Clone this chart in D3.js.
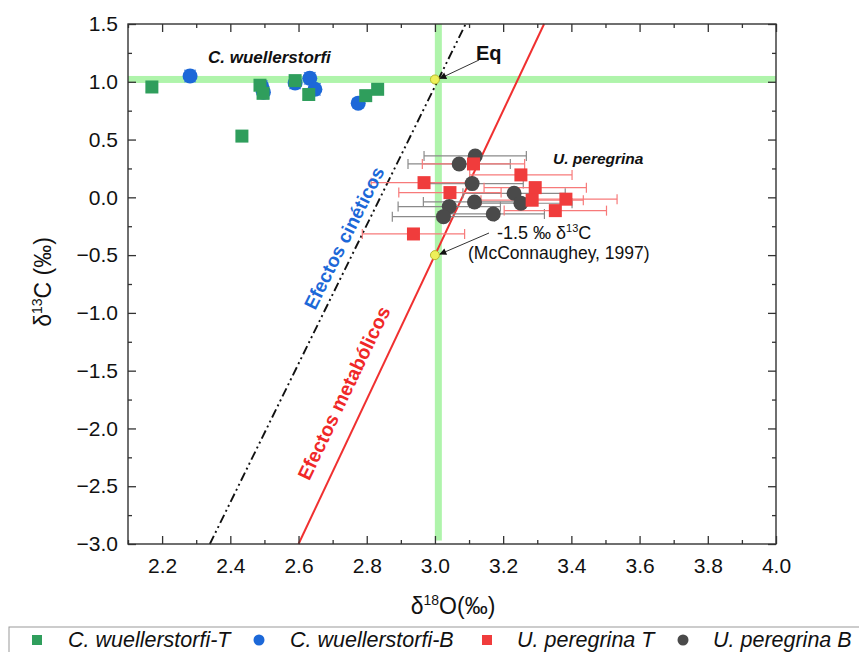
<!DOCTYPE html>
<html><head><meta charset="utf-8">
<script src="https://cdn.jsdelivr.net/npm/d3@7"></script>
<style>
body{margin:0;background:#fff;}
svg text{font-family:"Liberation Sans",Arial,sans-serif;}
</style></head>
<body><svg id="chart" width="859" height="652"></svg>
<script>
// ---- data ----
const cwT_x = [2.17, 2.434, 2.487, 2.496, 2.59, 2.63, 2.797, 2.832];
const cwT_y = [0.955, 0.53, 0.97, 0.90, 1.01, 0.89, 0.88, 0.935];
const cwT_yerr = [0.04, 0.04, 0.04, 0.04, 0.04, 0.04, 0.04, 0.04];

const cwB_x = [2.282, 2.492, 2.497, 2.59, 2.633, 2.648, 2.775];
const cwB_y = [1.05, 0.96, 0.91, 0.99, 1.03, 0.935, 0.815];
const cwB_yerr = [0.05, 0.05, 0.05, 0.05, 0.05, 0.05, 0.04];

const upT_x = [3.113, 3.252, 2.968, 3.294, 3.044, 3.384, 3.285, 3.353, 2.937];
const upT_y = [0.289, 0.194, 0.127, 0.084, 0.041, -0.016, -0.025, -0.115, -0.317];
const upT_xerr = [0.15, 0.15, 0.155, 0.15, 0.15, 0.15, 0.15, 0.15, 0.15];

const upB_x = [3.118, 3.071, 3.109, 3.232, 3.116, 3.252, 3.042, 3.025, 3.171];
const upB_y = [0.358, 0.289, 0.119, 0.035, -0.04, -0.051, -0.08, -0.167, -0.144];
const upB_xerr = [0.15, 0.15, 0.15, 0.15, 0.15, 0.15, 0.15, 0.15, 0.15];

const kineticLine = [[2.34, -3.0], [3.09, 1.5]];
const metabolicLine = [[2.6, -3.0], [3.32, 1.5]];
const eqPoint = [3.0, 1.02];
const mcPoint = [3.0, -0.5];
const bandY = 1.02;
const bandX = 3.01;

const xTicks = [2.2, 2.4, 2.6, 2.8, 3.0, 3.2, 3.4, 3.6, 3.8, 4.0];
const yTicks = [1.5, 1.0, 0.5, 0.0, -0.5, -1.0, -1.5, -2.0, -2.5, -3.0];
const legendLabels = ["C. wuellerstorfi-T", "C. wuellerstorfi-B", "U. peregrina T", "U. peregrina B"];

// ---- layout ----
const svg = d3.select("#chart");
const L = 128, R = 776, T = 24, B = 544;
const x = d3.scaleLinear().domain([2.1, 4.0]).range([L, R]);
const y = d3.scaleLinear().domain([-3.0, 1.5]).range([B, T]);

const cGreen = "#2f9e5c", cBlue = "#1c68d8", cRed = "#f03c3c", cGray = "#4a4a4a";

// bands
svg.append("rect").attr("x", L).attr("width", R - L)
  .attr("y", y(bandY) - 3.5).attr("height", 7).attr("fill", "#a6f3a2").attr("opacity", 0.9);
svg.append("rect").attr("x", x(bandX) - 3.5).attr("width", 7)
  .attr("y", T).attr("height", y(-2.97) - T).attr("fill", "#a6f3a2").attr("opacity", 0.9);

// lines
const line = d3.line().x(d => x(d[0])).y(d => y(d[1]));
svg.append("path").attr("d", line(kineticLine)).attr("stroke", "#111").attr("stroke-width", 1.9)
  .attr("fill", "none").attr("stroke-dasharray", "9,3.5,2,3.5,2,3.5");
svg.append("path").attr("d", line(metabolicLine)).attr("stroke", "#f03030").attr("stroke-width", 2)
  .attr("fill", "none");

// axes (ticks inside, mirrored)
function minor(arr) { const out = []; for (let i = 0; i < arr.length - 1; i++) out.push((arr[i] + arr[i + 1]) / 2); return out; }
const xMinor = [2.1].concat(minor(xTicks));
const yMinor = minor(yTicks);
const axG = svg.append("g");
axG.append("g").attr("transform", `translate(0,${B})`)
  .call(d3.axisBottom(x).tickValues(xTicks).tickSize(-8).tickPadding(14).tickFormat(d3.format(".1f")));
axG.append("g").attr("transform", `translate(0,${B})`)
  .call(d3.axisBottom(x).tickValues(xMinor).tickSize(-4).tickFormat(""));
axG.append("g").attr("transform", `translate(0,${T})`)
  .call(d3.axisTop(x).tickValues(xTicks).tickSize(-8).tickFormat(""));
axG.append("g").attr("transform", `translate(0,${T})`)
  .call(d3.axisTop(x).tickValues(xMinor).tickSize(-4).tickFormat(""));
axG.append("g").attr("transform", `translate(${L},0)`)
  .call(d3.axisLeft(y).tickValues(yTicks).tickSize(-8).tickPadding(10).tickFormat(d => d3.format(".1f")(d).replace("-", "\u2212")));
axG.append("g").attr("transform", `translate(${L},0)`)
  .call(d3.axisLeft(y).tickValues(yMinor).tickSize(-4).tickFormat(""));
axG.append("g").attr("transform", `translate(${R},0)`)
  .call(d3.axisRight(y).tickValues(yTicks).tickSize(-8).tickFormat(""));
axG.append("g").attr("transform", `translate(${R},0)`)
  .call(d3.axisRight(y).tickValues(yMinor).tickSize(-4).tickFormat(""));
axG.selectAll(".domain").remove();
axG.selectAll(".tick line").attr("stroke", "#333").attr("stroke-width", 1.3);
axG.selectAll(".tick text").attr("font-size", 21).attr("fill", "#111");
svg.append("rect").attr("x", L).attr("y", T).attr("width", R - L).attr("height", B - T)
  .attr("fill", "none").attr("stroke", "#333").attr("stroke-width", 1.4);

// axis titles
const yt = svg.append("text").attr("transform", `translate(51,${282}) rotate(-90)`)
  .attr("text-anchor", "middle").attr("font-size", 23).attr("fill", "#111");
yt.append("tspan").text("δ");
yt.append("tspan").attr("font-size", 14).attr("dy", -9).text("13");
yt.append("tspan").attr("dy", 9).text("C (‰)");
const xt = svg.append("text").attr("x", 453).attr("y", 614)
  .attr("text-anchor", "middle").attr("font-size", 23).attr("fill", "#111");
xt.append("tspan").text("δ");
xt.append("tspan").attr("font-size", 14).attr("dy", -9).text("18");
xt.append("tspan").attr("dy", 9).text("O(‰)");

// error bars
function vErr(xs, ys, es, col) {
  const g = svg.append("g").attr("stroke", col).attr("stroke-width", 1.2);
  xs.forEach((xv, i) => {
    const cx = x(xv), y1 = y(ys[i] - es[i]), y2 = y(ys[i] + es[i]);
    g.append("line").attr("x1", cx).attr("x2", cx).attr("y1", y1).attr("y2", y2);
    g.append("line").attr("x1", cx - 6).attr("x2", cx + 6).attr("y1", y1).attr("y2", y1);
    g.append("line").attr("x1", cx - 6).attr("x2", cx + 6).attr("y1", y2).attr("y2", y2);
  });
}
function hErr(xs, ys, es, col) {
  const g = svg.append("g").attr("stroke", col).attr("stroke-width", 1.2);
  xs.forEach((xv, i) => {
    const cy = y(ys[i]), x1 = x(xv - es[i]), x2 = x(xv + es[i]);
    g.append("line").attr("x1", x1).attr("x2", x2).attr("y1", cy).attr("y2", cy);
    g.append("line").attr("x1", x1).attr("x2", x1).attr("y1", cy - 5).attr("y2", cy + 5);
    g.append("line").attr("x1", x2).attr("x2", x2).attr("y1", cy - 5).attr("y2", cy + 5);
  });
}
hErr(upB_x, upB_y, upB_xerr, "#8a8a8a");
hErr(upT_x, upT_y, upT_xerr, "#f77a7a");
vErr(cwT_x, cwT_y, cwT_yerr, "#6cc48f");
vErr(cwB_x, cwB_y, cwB_yerr, "#5a95e6");

// markers
const S = 13;
svg.append("g").selectAll("circle").data(d3.range(upB_x.length)).join("circle")
  .attr("cx", i => x(upB_x[i])).attr("cy", i => y(upB_y[i])).attr("r", 7.5).attr("fill", cGray);
svg.append("g").selectAll("rect").data(d3.range(upT_x.length)).join("rect")
  .attr("x", i => x(upT_x[i]) - S / 2).attr("y", i => y(upT_y[i]) - S / 2)
  .attr("width", S).attr("height", S).attr("fill", cRed);
svg.append("g").selectAll("circle").data(d3.range(cwB_x.length)).join("circle")
  .attr("cx", i => x(cwB_x[i])).attr("cy", i => y(cwB_y[i])).attr("r", 7.5).attr("fill", cBlue);
svg.append("g").selectAll("rect").data(d3.range(cwT_x.length)).join("rect")
  .attr("x", i => x(cwT_x[i]) - S / 2).attr("y", i => y(cwT_y[i]) - S / 2)
  .attr("width", S).attr("height", S).attr("fill", cGreen);

// yellow points
[eqPoint, mcPoint].forEach(p => {
  svg.append("circle").attr("cx", x(p[0])).attr("cy", y(p[1])).attr("r", 4.5)
    .attr("fill", "#eef05a").attr("stroke", "#b8b830").attr("stroke-width", 1);
});

// arrows
const defs = svg.append("defs");
defs.append("marker").attr("id", "ah").attr("viewBox", "0 0 10 10").attr("refX", 9).attr("refY", 5)
  .attr("markerWidth", 10).attr("markerHeight", 7).attr("orient", "auto").attr("markerUnits", "userSpaceOnUse")
  .append("path").attr("d", "M0,0 L10,5 L0,10 z").attr("fill", "#111");
svg.append("line").attr("x1", 479).attr("y1", 60).attr("x2", x(eqPoint[0]) + 5).attr("y2", y(eqPoint[1]) - 1)
  .attr("stroke", "#333").attr("stroke-width", 1).attr("marker-end", "url(#ah)");
svg.append("line").attr("x1", 489).attr("y1", 233).attr("x2", x(mcPoint[0]) + 5).attr("y2", y(mcPoint[1]) - 1)
  .attr("stroke", "#333").attr("stroke-width", 1).attr("marker-end", "url(#ah)");

// annotations
svg.append("text").attr("x", 476).attr("y", 60).attr("font-size", 20).attr("font-weight", "bold").attr("fill", "#111").text("Eq");
svg.append("text").attr("x", 208).attr("y", 63).attr("font-size", 17).attr("font-weight", "bold")
  .attr("font-style", "italic").attr("fill", "#111").text("C. wuellerstorfi");
svg.append("text").attr("x", 553).attr("y", 164).attr("font-size", 15.5).attr("font-weight", "bold")
  .attr("font-style", "italic").attr("fill", "#111").text("U. peregrina");
const mc = svg.append("text").attr("x", 497).attr("y", 239).attr("font-size", 18).attr("fill", "#111");
mc.append("tspan").text("-1.5 ‰  δ");
mc.append("tspan").attr("font-size", 11).attr("dy", -7).text("13");
mc.append("tspan").attr("dy", 7).text("C");
svg.append("text").attr("x", 468).attr("y", 259).attr("font-size", 17.5).attr("fill", "#111").text("(McConnaughey, 1997)");

svg.append("text").attr("transform", "translate(350,241) rotate(-63.5)").attr("text-anchor", "middle")
  .attr("font-size", 19).attr("font-weight", "bold").attr("fill", cBlue)
  .text("Efectos cinéticos");
svg.append("text").attr("transform", "translate(350,396) rotate(-64.5)").attr("text-anchor", "middle")
  .attr("font-size", 19.5).attr("font-weight", "bold").attr("fill", "#f02828").text("Efectos metabólicos");

// legend
const lg = svg.append("g");
lg.append("rect").attr("x", 9).attr("y", 627).attr("width", 860).attr("height", 30)
  .attr("fill", "#fff").attr("stroke", "#999").attr("stroke-width", 1);
const lgItems = [
  {mx: 37, tx: 68, c: cGreen, shape: "sq"},
  {mx: 259, tx: 290, c: cBlue, shape: "ci"},
  {mx: 487, tx: 517, c: cRed, shape: "sq"},
  {mx: 683, tx: 713, c: cGray, shape: "ci"}
];
lgItems.forEach((d, i) => {
  if (d.shape === "sq") lg.append("rect").attr("x", d.mx - 5).attr("y", 640 - 5).attr("width", 10).attr("height", 10).attr("fill", d.c);
  else lg.append("circle").attr("cx", d.mx).attr("cy", 640).attr("r", 5.5).attr("fill", d.c);
  lg.append("text").attr("x", d.tx).attr("y", 647).attr("font-size", 21.5).attr("font-style", "italic")
    .attr("fill", "#111").text(legendLabels[i]);
});
</script></body></html>
